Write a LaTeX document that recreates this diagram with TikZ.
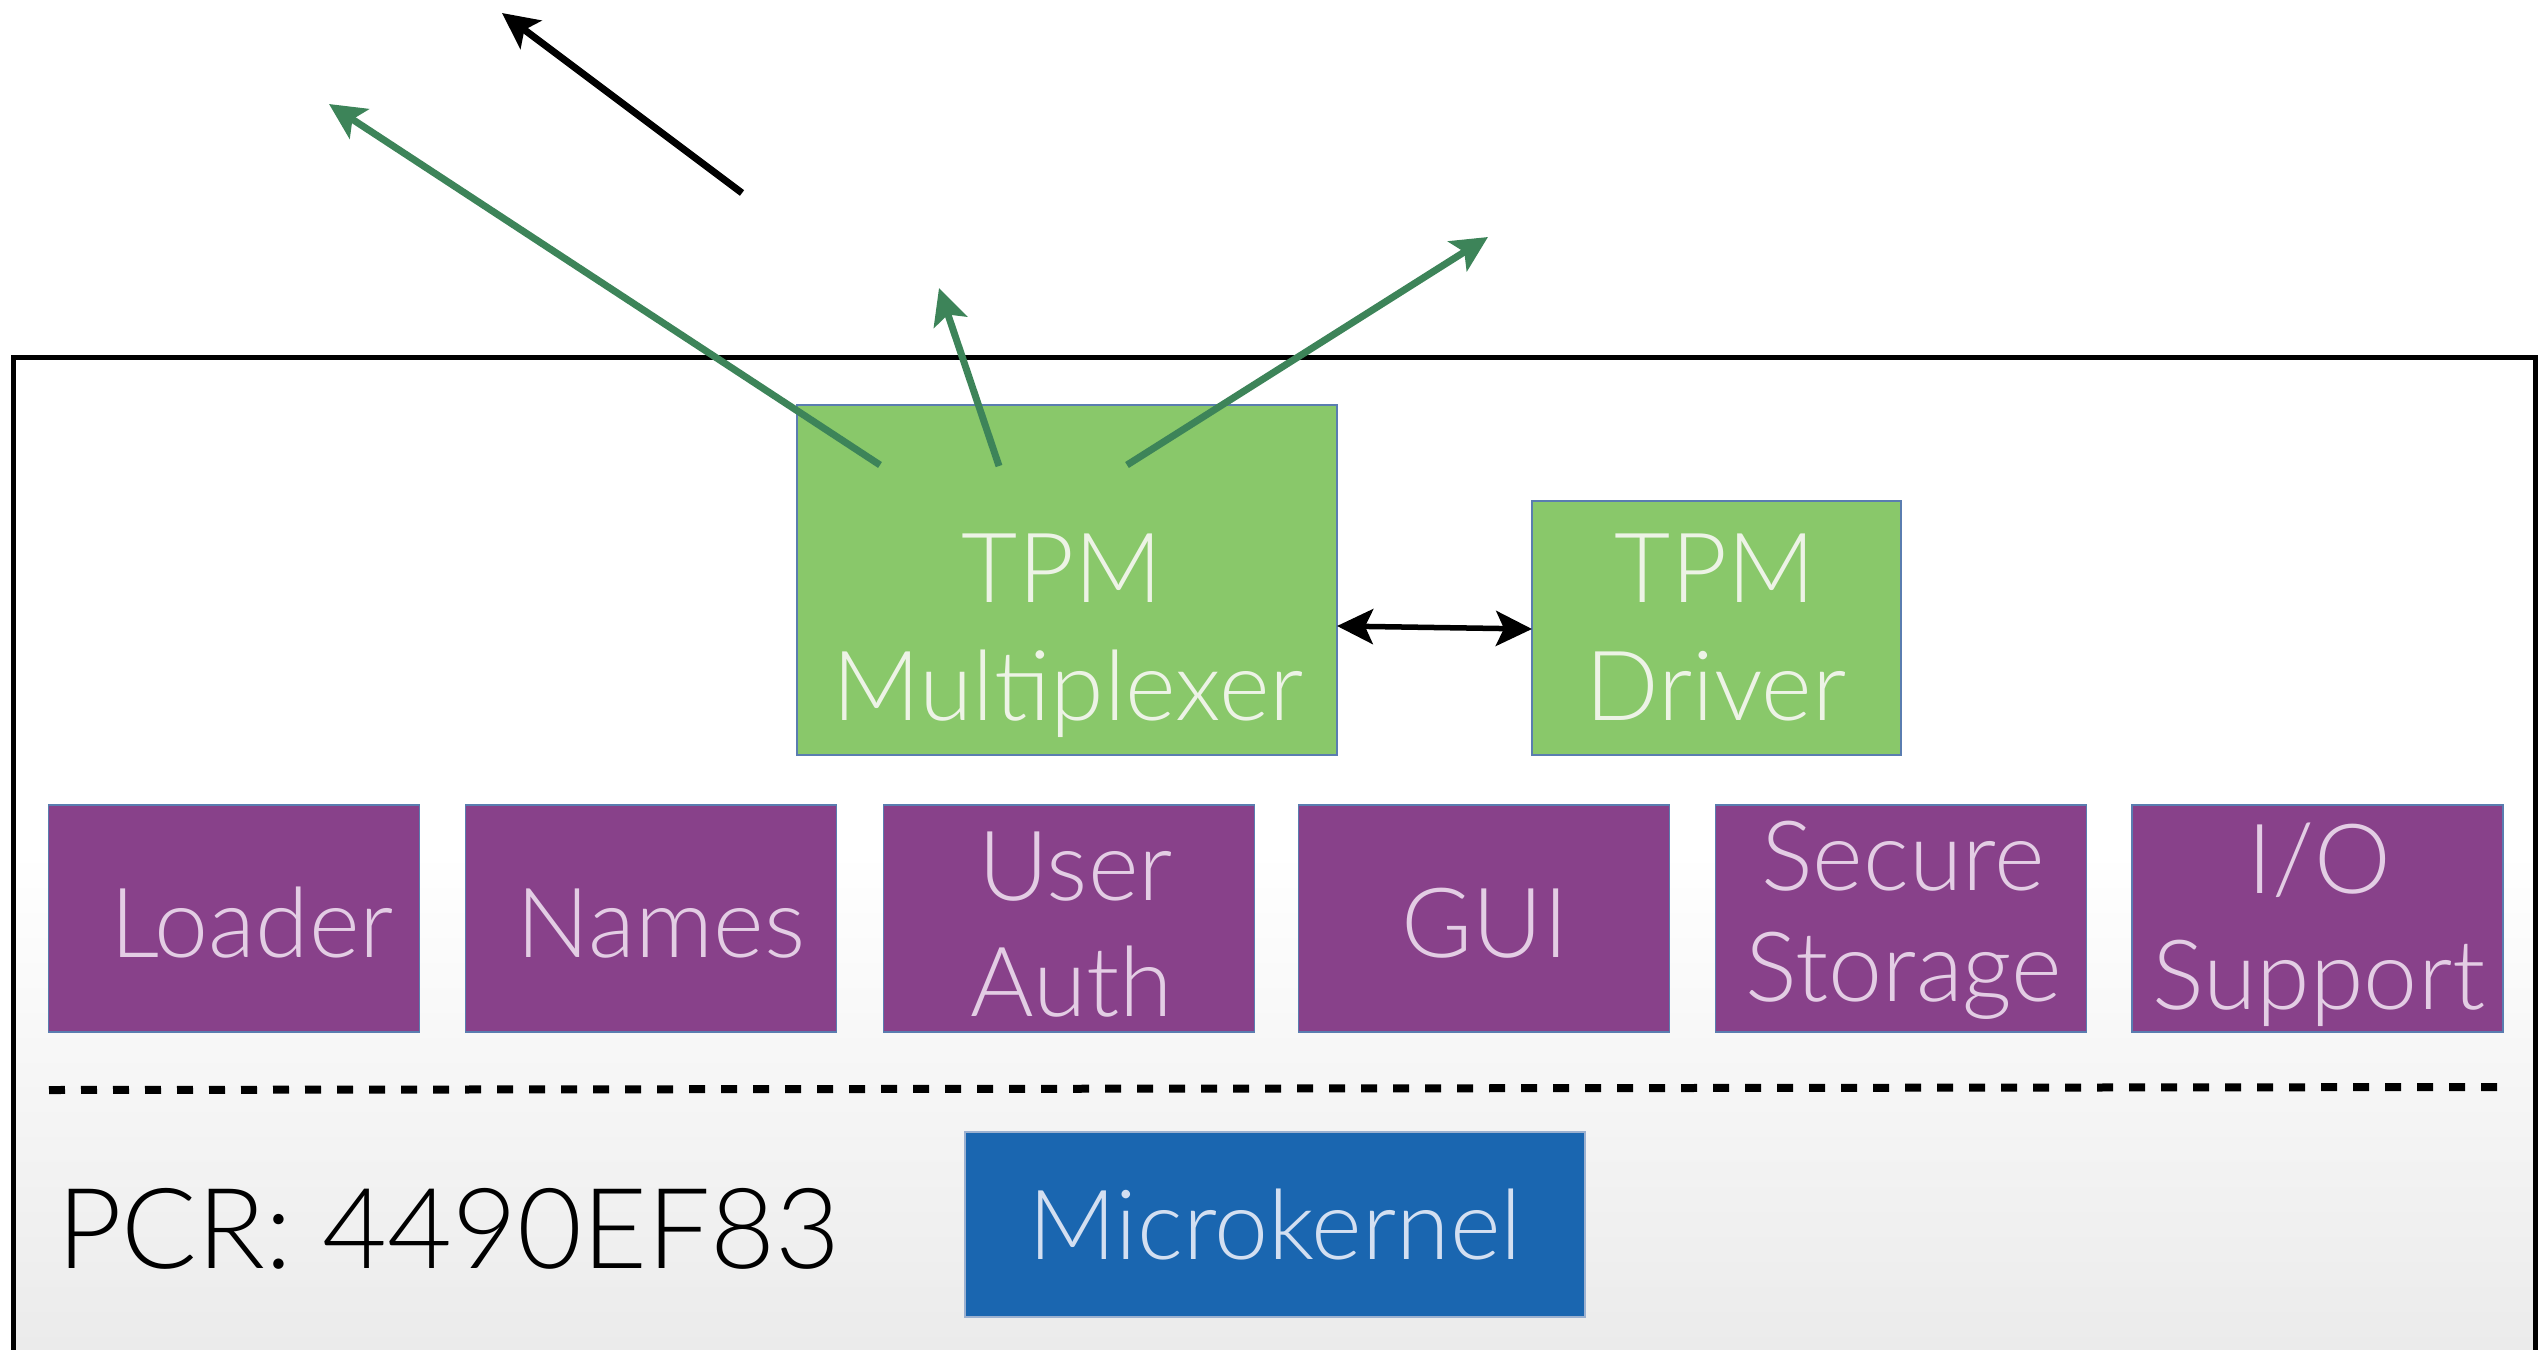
\documentclass[tikz,border=0pt]{standalone}
\usepackage{fontspec}
\IfFontExistsTF{Lato Light}
  {\setmainfont{Lato Light}}
  {\setmainfont{TeX Gyre Heros}}
\usetikzlibrary{arrows.meta}

\definecolor{tpmgreen}{HTML}{89C86A}
\definecolor{greentext}{HTML}{EDF3E6}
\definecolor{modpurple}{HTML}{88418A}
\definecolor{purpletext}{HTML}{E3CDE4}
\definecolor{kernelblue}{HTML}{1A66B0}
\definecolor{bluetext}{HTML}{D3DFF1}
\definecolor{boxedge}{HTML}{5A7DB0}
\definecolor{arrowgreen}{HTML}{3D8459}
\definecolor{panelbot}{HTML}{EBEBEB}

\begin{document}
\begin{tikzpicture}[x=1pt,y=-1pt,
  box/.style={rectangle, draw=boxedge, line width=1.5pt, inner sep=0pt},
  greenbox/.style={box, fill=tpmgreen},
  purplebox/.style={box, fill=modpurple, minimum width=371pt, minimum height=227pt},
  bluebox/.style={box, draw=boxedge!60, fill=kernelblue, minimum width=620pt, minimum height=185pt},
  lbl/.style={anchor=base, inner sep=0pt, font=\fontsize{97}{116}\selectfont},
  glbl/.style={lbl, text=greentext},
  plbl/.style={lbl, text=purpletext},
  blbl/.style={lbl, text=bluetext},
  tip/.tip={Stealth[length=36pt, width=35pt, inset=8pt]},
  greenlink/.style={draw=arrowgreen, line width=7pt, -tip},
  blacklink/.style={draw=black, line width=7pt, -tip},
  bothlink/.style={draw=black, line width=5.5pt, tip-tip}
]
\useasboundingbox (0,0) rectangle (2548,1349);
\clip (0,0) rectangle (2548,1349);

% panel background: white fading to light grey at the bottom
\fill[white] (13,357) rectangle (2535,851);
\shade[top color=white, bottom color=panelbot] (13,850) rectangle (2535,1349);

% panel frame (open at the bottom edge of the view)
\draw[line width=5pt] (13.5,1370) -- (13.5,357) -- (2535,357) -- (2535,1370);

% TPM components
\node[greenbox, minimum width=540pt, minimum height=350pt] (mux) at (1067,580) {};
\node[greenbox, minimum width=369pt, minimum height=254pt] (drv) at (1716.5,628) {};

% service modules
\node[purplebox] (loader) at (234,918.5) {};
\node[purplebox] (names)  at (651,918.5) {};
\node[purplebox] (auth)   at (1069,918.5) {};
\node[purplebox] (gui)    at (1484,918.5) {};
\node[purplebox] (store)  at (1901,918.5) {};
\node[purplebox] (io)     at (2317.5,918.5) {};

% kernel
\node[bluebox] (mk) at (1275,1224.5) {};

% separator between services and kernel
\coordinate (sepL) at (49,1090);
\coordinate (sepR) at (2499,1087);
\draw[line width=8pt, dash pattern=on 16pt off 16pt] (sepL) -- (sepR);

% labels
\node[glbl] (muxA) at (1062,602) {TPM};
\node[glbl] (muxB) at (1068,720) {Multiplexer};
\node[glbl] (drvA) at (1715,602) {TPM};
\node[glbl] (drvB) at (1716,720) {Driver};

\node[plbl] (loaderT) at (252,957) {Loader};
\node[plbl] (namesT)  at (661,957) {Names};
\node[plbl] (authA)   at (1076,900) {User};
\node[plbl] (authB)   at (1072,1016) {Auth};
\node[plbl] (guiT)    at (1485,957) {GUI};
\node[plbl] (storeA)  at (1903,890) {Secure};
\node[plbl] (storeB)  at (1904,1001) {Storage};
\node[plbl] (ioA)     at (2319,893) {I/O};
\node[plbl] (ioB)     at (2319,1009) {Support};

\node[blbl] (mkT) at (1275,1259) {Microkernel};

\node[anchor=base west, inner sep=0pt, font=\fontsize{112}{130}\selectfont] (pcr) at (57,1268) {PCR: 4490EF83};

% connectors
\coordinate (g1s) at (880,465);  \coordinate (g1e) at (329,104);
\coordinate (g2s) at (999,466);  \coordinate (g2e) at (939,288);
\coordinate (g3s) at (1127,465); \coordinate (g3e) at (1488,237);
\coordinate (bks) at (742,193);  \coordinate (bke) at (502,13);
\coordinate (muxR) at (1337,626); \coordinate (drvL) at (1532,629);

\draw[greenlink] (g1s) -- (g1e);
\draw[greenlink] (g2s) -- (g2e);
\draw[greenlink] (g3s) -- (g3e);
\draw[blacklink] (bks) -- (bke);
\draw[bothlink] (muxR) -- (drvL);
\end{tikzpicture}
\end{document}
